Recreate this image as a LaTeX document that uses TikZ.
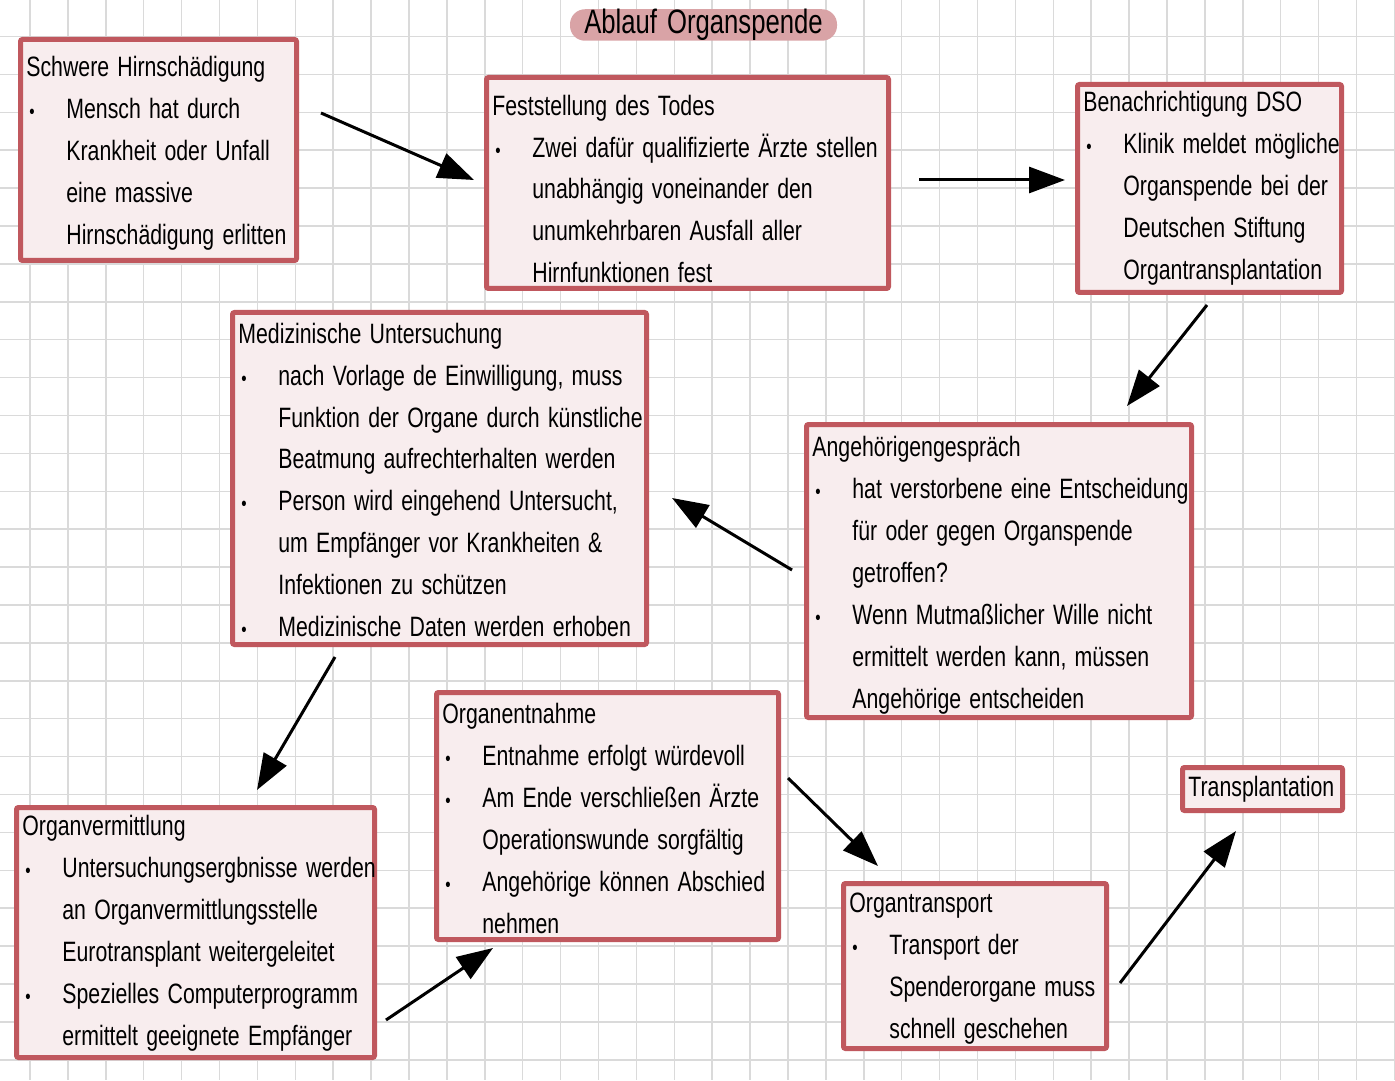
\documentclass[tikz,border=0pt]{standalone}
\usepackage{fontspec}
\setmainfont{Liberation Sans}[FakeStretch=0.76, WordSpace=1.4]
\usetikzlibrary{arrows.meta}
\definecolor{boxred}{HTML}{C0585E}
\definecolor{boxpink}{HTML}{F8EDEE}
\definecolor{titlepink}{HTML}{D9A3A6}
\definecolor{gridc}{HTML}{DADADA}
\newcommand{\mystrut}{\rule[-5pt]{0pt}{18pt}}
\newcommand{\hdl}[1]{\mbox{\mystrut #1}}
\newcommand{\bul}[1]{\mbox{\mystrut\makebox[20pt][l]{\hspace{1.5pt}{\fontsize{10pt}{10pt}\selectfont •}}#1}}
\newcommand{\cnt}[1]{\mbox{\mystrut\hspace*{20pt}#1}}
\begin{document}
\begin{tikzpicture}[x=0.5pt,y=-0.5pt,
  frame/.style={draw=boxred, fill=boxpink, line width=2.5pt, rounded corners=1pt,
    anchor=north west, inner sep=0pt},
  txt/.style={anchor=north west, align=left, inner sep=0pt,
    font=\fontsize{14pt}{20.95pt}\selectfont},
  arr/.style={draw, line width=1.5pt, -{Triangle[length=18pt,width=13pt]}},
  gridline/.style={draw=gridc, line width=0.75pt}]
\useasboundingbox (0,0) rectangle (1395,1080);
\fill[white] (0,0) rectangle (1395,1080);
\foreach \i in {0,...,36} \draw[gridline] ({30+37.9*\i},0) -- ({30+37.9*\i},1080);
\foreach \j in {0,...,27} \draw[gridline] (0,{36.5+37.9*\j}) -- (1395,{36.5+37.9*\j});

\node[fill=titlepink, rounded corners=7.5pt, minimum width=133.5pt, minimum height=15pt,
  inner sep=0pt, font=\fontsize{16.9pt}{18pt}\selectfont] (title) at (703.5,25) {Ablauf Organspende};

\node[frame, minimum width=138pt, minimum height=110.5pt] (n1) at (18,37) {};
\node[txt] (t1) at ([shift={(8,13.3)}]n1.north west) {%
\hdl{Schwere Hirnschädigung}\\
\bul{Mensch hat durch}\\
\cnt{Krankheit oder Unfall}\\
\cnt{eine massive}\\
\cnt{Hirnschädigung erlitten}};

\node[frame, minimum width=201pt, minimum height=105.5pt] (n2) at (484,75) {};
\node[txt] (t2) at ([shift={(8,13.8)}]n2.north west) {%
\hdl{Feststellung des Todes}\\
\bul{Zwei dafür qualifizierte Ärzte stellen}\\
\cnt{unabhängig voneinander den}\\
\cnt{unumkehrbaren Ausfall aller}\\
\cnt{Hirnfunktionen fest}};

\node[frame, minimum width=132pt, minimum height=104pt] (n3) at (1075,82) {};
\node[txt] (t3) at ([shift={(8,3.3)}]n3.north west) {%
\hdl{Benachrichtigung DSO}\\
\bul{Klinik meldet mögliche}\\
\cnt{Organspende bei der}\\
\cnt{Deutschen Stiftung}\\
\cnt{Organtransplantation}};

\node[frame, minimum width=207pt, minimum height=166pt] (n4) at (230,310) {};
\node[txt] (t4) at ([shift={(8,6.8)}]n4.north west) {%
\hdl{Medizinische Untersuchung}\\
\bul{nach Vorlage de Einwilligung, muss}\\
\cnt{Funktion der Organe durch künstliche}\\
\cnt{Beatmung aufrechterhalten werden}\\
\bul{Person wird eingehend Untersucht,}\\
\cnt{um Empfänger vor Krankheiten \&}\\
\cnt{Infektionen zu schützen}\\
\bul{Medizinische Daten werden erhoben}};

\node[frame, minimum width=192.5pt, minimum height=146.5pt] (n5) at (804,422) {};
\node[txt] (t5) at ([shift={(8,8.3)}]n5.north west) {%
\hdl{Angehörigengespräch}\\
\bul{hat verstorbene eine Entscheidung}\\
\cnt{für oder gegen Organspende}\\
\cnt{getroffen?}\\
\bul{Wenn Mutmaßlicher Wille nicht}\\
\cnt{ermittelt werden kann, müssen}\\
\cnt{Angehörige entscheiden}};

\node[frame, minimum width=179pt, minimum height=125pt] (n6) at (14,805) {};
\node[txt] (t6) at ([shift={(8,4.3)}]n6.north west) {%
\hdl{Organvermittlung}\\
\bul{Untersuchungsergbnisse werden}\\
\cnt{an Organvermittlungsstelle}\\
\cnt{Eurotransplant weitergeleitet}\\
\bul{Spezielles Computerprogramm}\\
\cnt{ermittelt geeignete Empfänger}};

\node[frame, minimum width=171pt, minimum height=123.5pt] (n7) at (434,690) {};
\node[txt] (t7) at ([shift={(8,7.3)}]n7.north west) {%
\hdl{Organentnahme}\\
\bul{Entnahme erfolgt würdevoll}\\
\bul{Am Ende verschließen Ärzte}\\
\cnt{Operationswunde sorgfältig}\\
\bul{Angehörige können Abschied}\\
\cnt{nehmen}};

\node[frame, minimum width=131.5pt, minimum height=82.5pt] (n8) at (841,881) {};
\node[txt] (t8) at ([shift={(8,5.5)}]n8.north west) {%
\hdl{Organtransport}\\
\bul{Transport der}\\
\cnt{Spenderorgane muss}\\
\cnt{schnell geschehen}};

\node[frame, minimum width=80pt, minimum height=21.5pt] (n9) at (1180,765) {};
\node[txt] (t9) at ([shift={(8,5.5)}]n9.north west) {\hdl{Transplantation}};

\coordinate (a1s) at (321,113);  \coordinate (a1e) at (474,180);
\coordinate (a2s) at (919,180);  \coordinate (a2e) at (1065,180);
\coordinate (a3s) at (1207,305); \coordinate (a3e) at (1127,406);
\coordinate (a4s) at (792,570);  \coordinate (a4e) at (672,498);
\coordinate (a5s) at (335,657);  \coordinate (a5e) at (257,790);
\coordinate (a6s) at (386,1020); \coordinate (a6e) at (493,948);
\coordinate (a7s) at (788,778);  \coordinate (a7e) at (878,866);
\coordinate (a8s) at (1120,983); \coordinate (a8e) at (1236,831);
\foreach \k in {1,...,8} \draw[arr] (a\k s) -- (a\k e);
\end{tikzpicture}
\end{document}
